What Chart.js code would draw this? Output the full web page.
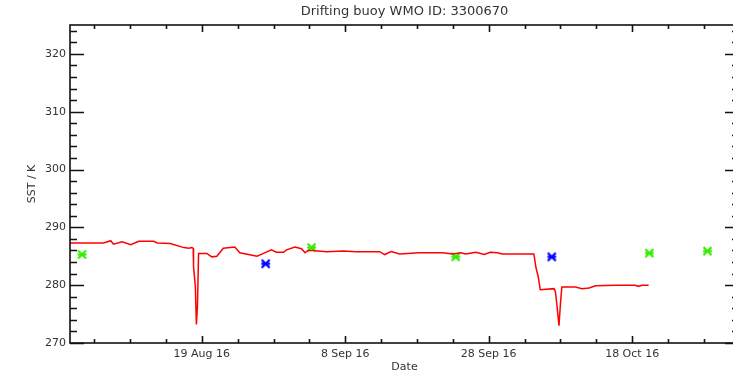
<!DOCTYPE html>
<html>
<head>
<meta charset="utf-8">
<script src="https://cdn.jsdelivr.net/npm/chart.js@4/dist/chart.umd.min.js"></script>
<style>
  html, body { margin: 0; padding: 0; background: #fff; overflow: hidden; }
  #wrap { width: 745px; height: 377px; }
</style>
</head>
<body>
<div id="wrap"><canvas id="sstChart" width="745" height="377"></canvas></div>
<script>
// days counted from 1 Aug 2016
const lineDays = [-0.4, 4.3, 5.3, 5.7, 6.9, 8.1, 9.2, 11.3, 11.8, 13.6, 15.5, 16.2, 16.6, 16.8, 16.85, 17.1, 17.25, 17.4, 17.55,
  18.7, 19.4, 20.1, 21.0, 22.6, 23.3, 25.7, 26.6, 27.7, 28.4, 29.4, 29.8, 31.0, 31.9, 32.4, 32.8, 33.5, 35.4, 37.7, 39.5,
  42.8, 43.5, 44.4, 45.6, 48.3, 50.0, 51.6, 53.0, 54.1, 54.8, 56.2, 57.4, 58.2, 59.2, 59.9, 64.3, 64.6, 64.9, 65.2,
  67.1, 67.3, 67.5, 67.8, 68.0, 68.2, 70.1, 71.0, 72.0, 72.9, 75.7, 78.4, 78.9, 79.4, 80.3];
const lineSST = [287.3, 287.3, 287.7, 287.1, 287.5, 287.0, 287.6, 287.6, 287.3, 287.2, 286.5, 286.4, 286.5, 286.4, 283.2, 279.8, 273.2, 276.6, 285.5,
  285.5, 284.9, 285.0, 286.4, 286.6, 285.6, 285.0, 285.5, 286.1, 285.7, 285.7, 286.1, 286.6, 286.3, 285.6, 286.0, 286.0, 285.8, 285.9, 285.8,
  285.8, 285.3, 285.8, 285.4, 285.6, 285.6, 285.6, 285.4, 285.6, 285.4, 285.7, 285.3, 285.7, 285.6, 285.4, 285.4, 283.0, 281.5, 279.2,
  279.4, 278.9, 276.7, 273.0, 276.7, 279.7, 279.7, 279.4, 279.5, 279.9, 280.0, 280.0, 279.8, 280.0, 280.0];

const greenDays = [1.3, 33.3, 53.4, 80.4, 88.5];
const greenSST = [285.3, 286.5, 284.9, 285.55, 285.9];
const blueDays = [26.9, 66.8];
const blueSST = [283.7, 284.9];

const xTickDays = [18, 38, 58, 78];
const xTickLabels = ['19 Aug 16', '8 Sep 16', '28 Sep 16', '18 Oct 16'];
const yTicks = [270, 280, 290, 300, 310, 320];

function pts(xs, ys) { return xs.map((x, i) => ({ x: x, y: ys[i] })); }

// IDL style asterisk marker (X with a horizontal bar)
function asterisk(color) {
  const c = document.createElement('canvas');
  c.width = 11; c.height = 11;
  const g = c.getContext('2d');
  g.strokeStyle = color; g.lineWidth = 2.2;
  g.beginPath();
  g.moveTo(1.5, 1.5); g.lineTo(9.5, 9.5);
  g.moveTo(9.5, 1.5); g.lineTo(1.5, 9.5);
  g.moveTo(1, 5.5); g.lineTo(10, 5.5);
  g.stroke();
  return c;
}

// inward tick marks and frame, like the IDL plot
const idlAxes = {
  id: 'idlAxes',
  afterDraw(chart) {
    const { ctx, chartArea: a, scales } = chart;
    const xs = scales.x, ys = scales.y;
    ctx.save();
    ctx.strokeStyle = '#111';
    ctx.lineWidth = 1.6;
    ctx.strokeRect(a.left, a.top, a.right - a.left, a.bottom - a.top);
    ctx.beginPath();
    for (let d = 3; d < xs.max; d += 5) {
      const px = Math.round(xs.getPixelForValue(d)) + 0.5;
      const len = xTickDays.includes(d) ? 7 : 4;
      ctx.moveTo(px, a.bottom); ctx.lineTo(px, a.bottom - len);
      ctx.moveTo(px, a.top); ctx.lineTo(px, a.top + len);
    }
    for (let v = 270; v <= 325; v += 2) {
      const py = Math.round(ys.getPixelForValue(v)) + 0.5;
      const len = v % 10 === 0 ? 14 : 7;
      ctx.moveTo(a.left, py); ctx.lineTo(a.left + len, py);
      ctx.moveTo(a.right, py); ctx.lineTo(a.right - len, py);
    }
    ctx.stroke();
    ctx.restore();
  }
};

const font = { family: 'DejaVu Sans', size: 11 };

new Chart(document.getElementById('sstChart').getContext('2d'), {
  type: 'scatter',
  data: {
    datasets: [
      {
        data: pts(lineDays, lineSST),
        showLine: true,
        borderColor: '#ff0000',
        borderWidth: 1.5,
        pointRadius: 0,
        tension: 0
      },
      {
        data: pts(greenDays, greenSST),
        pointStyle: asterisk('#33ee00'),
        pointRadius: 5
      },
      {
        data: pts(blueDays, blueSST),
        pointStyle: asterisk('#0000ff'),
        pointRadius: 5
      }
    ]
  },
  options: {
    responsive: false,
    animation: false,
    layout: { padding: { top: 0, right: 4, bottom: 0, left: 0 } },
    plugins: {
      legend: { display: false },
      tooltip: { enabled: false },
      title: {
        display: true,
        text: 'Drifting buoy WMO ID: 3300670',
        fullSize: false,
        color: '#333',
        font: { family: 'DejaVu Sans', size: 13, weight: 'normal' },
        padding: { top: 4, bottom: 5.4 }
      }
    },
    scales: {
      x: {
        type: 'linear',
        min: -0.375,
        max: 92.9,
        grid: { display: false, drawTicks: false },
        border: { display: false },
        afterBuildTicks: s => { s.ticks = xTickDays.map(v => ({ value: v })); },
        afterFit: s => { s.height = 34; },
        ticks: {
          color: '#333',
          font: font,
          padding: 5,
          maxRotation: 0,
          callback: v => xTickLabels[xTickDays.indexOf(v)]
        },
        title: {
          display: true,
          text: 'Date',
          color: '#333',
          font: font,
          padding: { top: 0, bottom: 3.4 }
        }
      },
      y: {
        min: 270,
        max: 325,
        grid: { display: false, drawTicks: false },
        border: { display: false },
        afterBuildTicks: s => { s.ticks = yTicks.map(v => ({ value: v })); },
        afterFit: s => { s.width = 70; },
        ticks: { color: '#333', font: font, padding: 4 },
        title: {
          display: true,
          text: 'SST / K',
          color: '#333',
          font: font,
          padding: { top: 25.4, bottom: 0 }
        }
      }
    }
  },
  plugins: [idlAxes]
});
</script>
</body>
</html>
